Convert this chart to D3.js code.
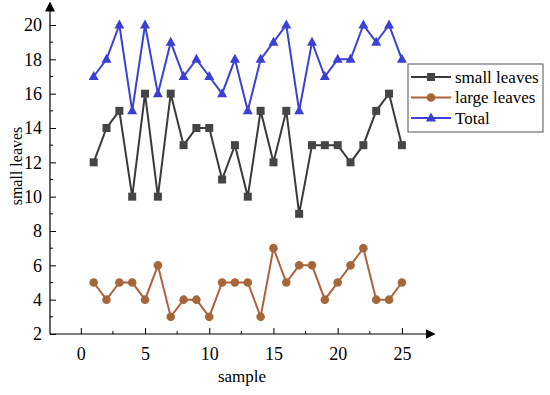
<!DOCTYPE html>
<html>
<head>
<meta charset="utf-8">
<script src="https://cdn.jsdelivr.net/npm/d3@7"></script>
<style>
  body { margin: 0; background: #fff; }
  svg, svg text { font-family: "Liberation Serif", "Times New Roman", serif; }
</style>
</head>
<body>
<svg id="chart" width="550" height="395"></svg>
<script>
// data
const samples = d3.range(1, 26)
const smallLeaves = [12, 14, 15, 10, 16, 10, 16, 13, 14, 14, 11, 13, 10, 15, 12, 15, 9, 13, 13, 13, 12, 13, 15, 16, 13]
const largeLeaves = [5, 4, 5, 5, 4, 6, 3, 4, 4, 3, 5, 5, 5, 3, 7, 5, 6, 6, 4, 5, 6, 7, 4, 4, 5]
const total = [17, 18, 20, 15, 20, 16, 19, 17, 18, 17, 16, 18, 15, 18, 19, 20, 15, 19, 17, 18, 18, 20, 19, 20, 18]
const xTicks = [0, 5, 10, 15, 20, 25]
const yTicks = [2, 4, 6, 8, 10, 12, 14, 16, 18, 20]

const series = [
  { name: 'small leaves', values: smallLeaves, line: '#3a3a3a', fill: '#454545', shape: 'square' },
  { name: 'large leaves', values: largeLeaves, line: '#b0603a', fill: '#a5673a', shape: 'circle' },
  { name: 'Total', values: total, line: '#3a40d4', fill: '#3a40d4', shape: 'triangle' }
]

const svg = d3.select('#chart')
const left = 50, bottom = 334
const serif = '"Liberation Serif", "Times New Roman", serif'

const x = d3.scaleLinear().domain([-2.4, 27.5]).range([left, 434])
const y = d3.scaleLinear().domain([2, 20]).range([bottom, 25])

// arrow heads
svg.append('defs').append('marker')
  .attr('id', 'arrow')
  .attr('viewBox', '0 0 10 10')
  .attr('refX', 2).attr('refY', 5)
  .attr('markerWidth', 10).attr('markerHeight', 10)
  .attr('markerUnits', 'userSpaceOnUse')
  .attr('orient', 'auto')
  .append('path')
  .attr('d', 'M0,0 L10,5 L0,10 Z')
  .attr('fill', '#000')

// x axis
const xaxis = d3.axisTop(x).tickValues(xTicks).tickSize(6).tickSizeOuter(0).tickFormat(d3.format('d'))
const xg = svg.append('g')
  .attr('transform', `translate(0, ${bottom})`)
  .call(xaxis)
  .attr('font-family', serif)
  .attr('font-size', 18)
xg.select('.domain').remove()
xg.selectAll('.tick text').attr('y', 13).attr('dy', '0.71em').attr('fill', '#000')
xg.selectAll('.tick line').attr('stroke', '#000')
svg.append('line')
  .attr('x1', left).attr('x2', x(27))
  .attr('y1', bottom).attr('y2', bottom)
  .attr('stroke', '#000').attr('stroke-width', 1.2)
  .attr('marker-end', 'url(#arrow)')
// x minor ticks
svg.append('g').selectAll('line')
  .data([2.5, 7.5, 12.5, 17.5, 22.5])
  .join('line')
  .attr('x1', d => x(d)).attr('x2', d => x(d))
  .attr('y1', bottom).attr('y2', bottom - 3)
  .attr('stroke', '#000')

// y axis
const yaxis = d3.axisRight(y).tickValues(yTicks).tickSize(6).tickSizeOuter(0)
const yg = svg.append('g')
  .attr('transform', `translate(${left}, 0)`)
  .call(yaxis)
  .attr('font-family', serif)
  .attr('font-size', 18)
yg.select('.domain').remove()
yg.selectAll('.tick text').attr('x', -8).attr('text-anchor', 'end').attr('fill', '#000')
yg.selectAll('.tick line').attr('stroke', '#000')
svg.append('line')
  .attr('x1', left).attr('x2', left)
  .attr('y1', bottom).attr('y2', y(20.9))
  .attr('stroke', '#000').attr('stroke-width', 1.2)
  .attr('marker-end', 'url(#arrow)')
svg.append('g').selectAll('line')
  .data(d3.range(3, 21, 2))
  .join('line')
  .attr('x1', left).attr('x2', left + 3)
  .attr('y1', d => y(d)).attr('y2', d => y(d))
  .attr('stroke', '#000')

// axis titles
svg.append('text')
  .attr('x', 242).attr('y', 382)
  .attr('text-anchor', 'middle')
  .style('font-size', '17px')
  .text('sample')
svg.append('text')
  .attr('transform', 'translate(22, 166) rotate(-90)')
  .attr('text-anchor', 'middle')
  .style('font-size', '16px')
  .text('small leaves')

// markers
function drawMarker(g, shape, color, cx, cy) {
  if (shape === 'square') {
    g.append('rect').attr('x', cx - 4).attr('y', cy - 4).attr('width', 8).attr('height', 8).attr('fill', color)
  } else if (shape === 'circle') {
    g.append('circle').attr('cx', cx).attr('cy', cy).attr('r', 4.3).attr('fill', color)
  } else {
    g.append('path').attr('d', `M${cx},${cy - 5.5} L${cx + 5},${cy + 3.5} L${cx - 5},${cy + 3.5} Z`).attr('fill', color)
  }
}

const line = d3.line().x((d, i) => x(samples[i])).y(d => y(d))

series.forEach(s => {
  const g = svg.append('g')
  g.append('path')
    .attr('d', line(s.values))
    .attr('fill', 'none')
    .attr('stroke', s.line)
    .attr('stroke-width', 2)
  s.values.forEach((v, i) => drawMarker(g, s.shape, s.fill, x(samples[i]), y(v)))
})

// legend
const lg = svg.append('g').attr('transform', 'translate(408, 64)')
lg.append('rect')
  .attr('width', 135).attr('height', 68)
  .attr('fill', '#fff').attr('stroke', '#555').attr('stroke-width', 1)
series.forEach((s, i) => {
  const yy = 13 + i * 20.5
  lg.append('line').attr('x1', 3).attr('x2', 43).attr('y1', yy).attr('y2', yy)
    .attr('stroke', s.line).attr('stroke-width', 2)
  drawMarker(lg, s.shape, s.fill, 23, yy)
  lg.append('text').attr('x', 47).attr('y', yy).attr('dy', '0.35em')
    .style('font-size', '17px').text(s.name)
})
</script>
</body>
</html>
